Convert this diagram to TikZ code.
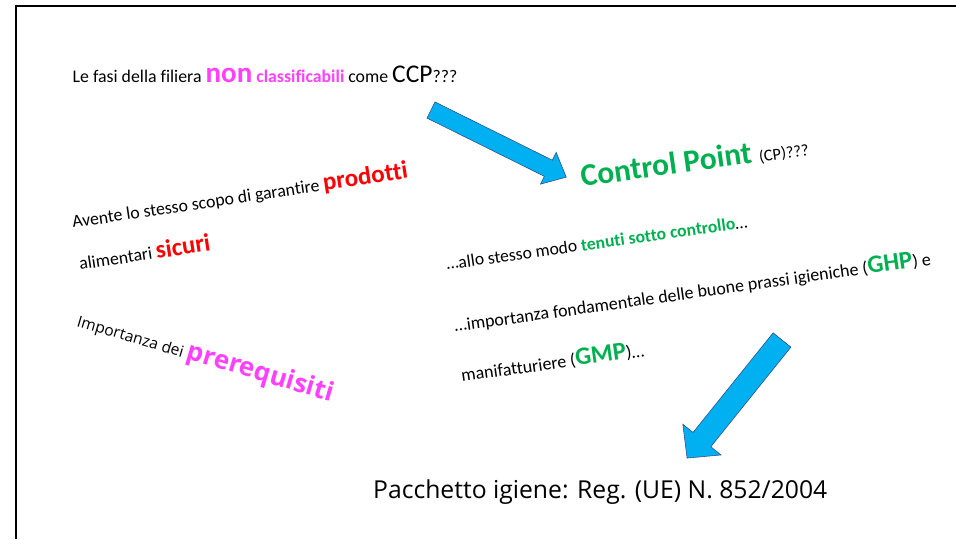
\documentclass[tikz,border=0pt]{standalone}
\usepackage{fontspec}
\setmainfont{Carlito}[Ligatures=NoCommon]
\newfontfamily\segoe{Open Sans}
\definecolor{fucsia}{HTML}{FF40FF}
\definecolor{rosso}{HTML}{FF0000}
\definecolor{verde}{HTML}{00B050}
\definecolor{azzurro}{HTML}{00B0F0}
\definecolor{bordo}{HTML}{2F528F}
\newcommand{\fsz}[1]{\fontsize{#1}{#1}\selectfont}

\begin{document}
\begin{tikzpicture}[x=1pt, y=-1pt,
	txt/.style={anchor=base west, inner sep=0pt, font=\fsz{17.5}},
	pfeil/.style={fill=azzurro, draw=bordo, line width=0.6pt, line join=miter}]
	% Rahmen
	\useasboundingbox (0,0) rectangle (956,539);
	\draw[line width=2.4pt] (16.2,539) -- (16.2,6.2) -- (956,6.2);
	% Texte links
	\node[txt, font=\fsz{17.8}] (fasi) at (72.5,82) {Le fasi della filiera {\color{fucsia}\bfseries\fsz{29}non} {\color{fucsia}\bfseries classificabili} come {\fsz{25.5}CCP}???};
	\node[txt, rotate=8.5, font=\fsz{17.8}] (avente) at (73,228) {Avente lo stesso scopo di garantire {\color{rosso}\bfseries\fsz{25}prodotti}};
	\node[txt, rotate=8.5, font=\fsz{17.8}] (sicuri) at (80,270) {alimentari {\color{rosso}\bfseries\fsz{25}sicuri}};
	\node[txt, rotate=-16.5, font=\segoe\fsz{15.6}] (prereq) at (76,326) {Importanza dei {\color{fucsia}\bfseries\fsz{26}prerequisiti}};
	% Texte rechts
	\node[txt, rotate=8] (cp) at (582,187) {{\color{verde}\bfseries\fsz{31.5}Control Point }{\fsz{16.5}(CP)???}};
	\node[txt, rotate=8, font=\fsz{17.6}] (modo) at (447,270) {…allo stesso modo {\color{verde}\bfseries tenuti sotto controllo}…};
	\node[txt, rotate=8, font=\fsz{18}] (ghp) at (455,332) {…importanza fondamentale delle buone prassi igieniche ({\color{verde}\bfseries\fsz{25}GHP}) e};
	\node[txt, rotate=8, font=\fsz{18}] (gmp) at (462,382) {manifatturiere ({\color{verde}\bfseries\fsz{25}GMP})…};
	\node[txt, font=\segoe\fsz{24.7}] (reg) at (373,498) {Pacchetto igiene: Reg. (UE) N. 852/2004};
	% Blockpfeile
	\draw[pfeil, shift={(431,110)}, rotate=-26.4] (0,9) -- (131,9) -- (131,17.7) -- (151,0) -- (131,-17.7) -- (131,-9) -- (0,-9) -- cycle;
	\draw[pfeil, shift={(782,340)}, rotate=231.2] (0,11.4) -- (127.8,11.4) -- (127.8,24.5) -- (151.5,0) -- (127.8,-24.5) -- (127.8,-11.4) -- (0,-11.4) -- cycle;
\end{tikzpicture}
\end{document}
